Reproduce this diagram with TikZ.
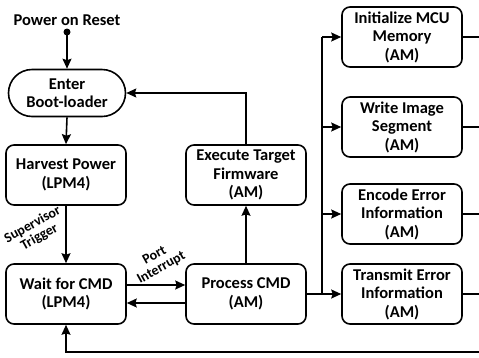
\documentclass[tikz,border=0pt]{standalone}
\usepackage{fontspec}
\setmainfont{Carlito}
\usetikzlibrary{arrows.meta,shapes.misc}

\begin{document}
\begin{tikzpicture}[x=1pt,y=-1pt,line width=1.6pt,
    every node/.style={font=\bfseries\fontsize{16.5}{18.5}\selectfont,align=center},
    blk/.style={draw,rounded corners=8pt,minimum width=120pt,minimum height=60pt,inner sep=1pt},
    pill/.style={draw,rounded rectangle,minimum width=119pt,minimum height=47pt,inner sep=1pt},
    lbl/.style={font=\bfseries\fontsize{14}{14}\selectfont,rotate=29},
    >={Stealth[length=10pt,width=9pt,inset=1.5pt]}]
    \useasboundingbox (0,0) rectangle (479,357);
    % left column
    \node (por) at (67,20) {Power on Reset};
    \coordinate (dot) at (67,32);
    \fill (dot) circle (3.5pt);
    \node[pill] (boot) at (67,93) {Enter\\Boot-loader};
    \node[blk] (harvest) at (66,175) {Harvest Power\\(LPM4)};
    \node[blk] (wait) at (66,294) {Wait for CMD\\(LPM4)};
    % middle column
    \node[blk] (execute) at (246,175) {Execute Target\\Firmware\\(AM)};
    \node[blk] (process) at (246,294) {Process CMD\\(AM)};
    % right column
    \node[blk] (init) at (402,37) {Initialize MCU\\Memory\\(AM)};
    \node[blk] (write) at (402,127) {Write Image\\Segment\\(AM)};
    \node[blk] (encode) at (402,214) {Encode Error\\Information\\(AM)};
    \node[blk] (transmit) at (402,294) {Transmit Error\\Information\\(AM)};
    \coordinate (bus) at (322,294);
    \coordinate (edge) at (479,352);
    % connectors
    \draw[->] (dot) -- (boot.north);
    \draw[->] (boot.south) -- (harvest.north);
    \draw[->] (harvest.south) -- (wait.north);
    \draw[->] ([yshift=9pt]wait.east) -- ([yshift=9pt]process.west);
    \draw[->] ([yshift=-9pt]process.west) -- ([yshift=-9pt]wait.east);
    \draw[->] (process.north) -- (execute.south);
    \draw[->] (execute.north) -- (execute |- boot) -- (boot.east);
    \draw (process.east) -- (bus) -- (bus |- init);
    \foreach \n in {init,write,encode,transmit}{
        \draw[->] (bus |- \n) -- (\n.west);
        \draw (\n.east) -- (\n.east -| edge);
    }
    \draw[->] (edge) -- (wait |- edge) -- (wait.south);
    % labels
    \node[lbl] (sup) at (36,231) {Supervisor\\Trigger};
    \node[lbl] (port) at (158,262) {Port\\Interrupt};
\end{tikzpicture}
\end{document}
